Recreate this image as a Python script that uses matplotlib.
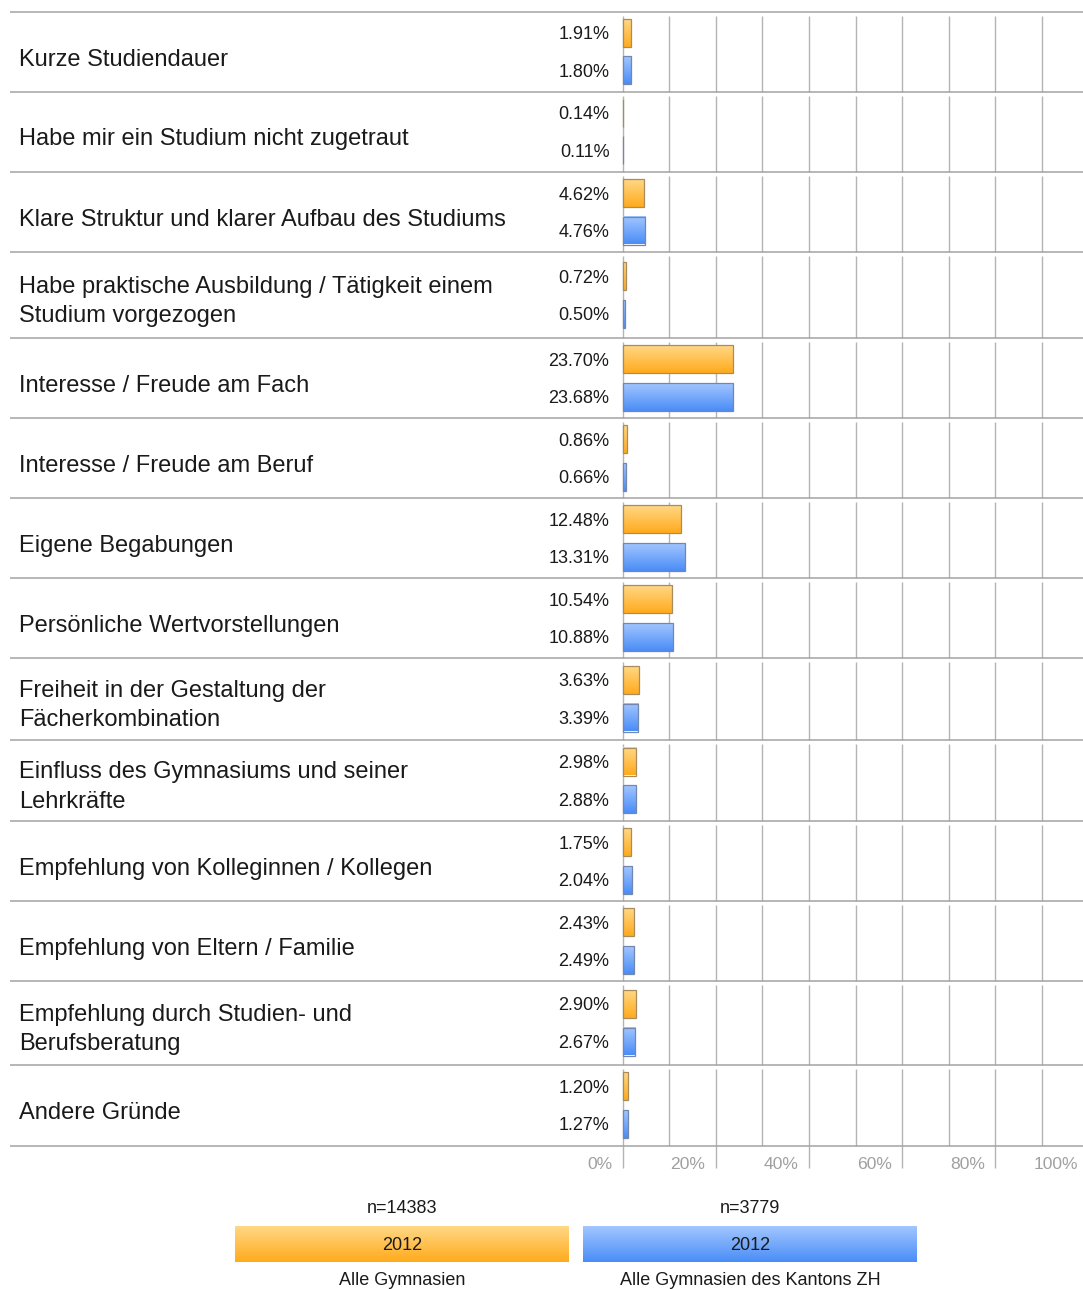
import numpy as np
import matplotlib
matplotlib.use("Agg")
import matplotlib.pyplot as plt
from matplotlib.colors import LinearSegmentedColormap

plt.rcParams['font.family'] = ['Liberation Sans', 'DejaVu Sans']

# daten (Prozent)
categories = [
    "Kurze Studiendauer",
    "Habe mir ein Studium nicht zugetraut",
    "Klare Struktur und klarer Aufbau des Studiums",
    "Habe praktische Ausbildung / Tätigkeit einem\nStudium vorgezogen",
    "Interesse / Freude am Fach",
    "Interesse / Freude am Beruf",
    "Eigene Begabungen",
    "Persönliche Wertvorstellungen",
    "Freiheit in der Gestaltung der\nFächerkombination",
    "Einfluss des Gymnasiums und seiner\nLehrkräfte",
    "Empfehlung von Kolleginnen / Kollegen",
    "Empfehlung von Eltern / Familie",
    "Empfehlung durch Studien- und\nBerufsberatung",
    "Andere Gründe",
]
alle_gym = [1.91, 0.14, 4.62, 0.72, 23.70, 0.86, 12.48, 10.54, 3.63, 2.98, 1.75, 2.43, 2.90, 1.20]
gym_zh = [1.80, 0.11, 4.76, 0.50, 23.68, 0.66, 13.31, 10.88, 3.39, 2.88, 2.04, 2.49, 2.67, 1.27]
series_names = ["Alle Gymnasien", "Alle Gymnasien des Kantons ZH"]
series_n = ["n=14383", "n=3779"]
series_year = ["2012", "2012"]
tick_vals = [0, 20, 40, 60, 80, 100]

# layout in pixel
W, H = 1083, 1289
PX0 = 622.5          # pixel of 0%
PXPCT = 4.66         # pixel per percent
row_edges = [11.5, 91.5, 171.5, 252, 338, 418, 498, 578, 658, 739.5, 821, 901, 981, 1064.5, 1145.5]
bar_h = 28
off = 18.75

orange_cm = LinearSegmentedColormap.from_list("o", ["#ffd886", "#ffab1c"])
blue_cm = LinearSegmentedColormap.from_list("b", ["#a2c6ff", "#4a8df7"])
grad = np.linspace(0, 1, 64).reshape(-1, 1)
txt_col = "#1a1a1a"

fig = plt.figure(figsize=(W / 100, H / 100), dpi=100)
ax = fig.add_axes([0, 0, 1, 1])
xlim = (-PX0 / PXPCT, (W - PX0) / PXPCT)
ax.axis('off')

def gbar(y, v, cm, edge):
    y0, y1 = y - bar_h / 2, y + bar_h / 2
    ax.imshow(grad, cmap=cm, aspect='auto', origin='upper',
              extent=(0, v, y1, y0), interpolation='bilinear', zorder=3)
    ax.barh(y, v, height=bar_h, left=0, fill=False, edgecolor=edge,
            linewidth=0.9, zorder=4)

ytr = ax.get_yaxis_transform()
for i, cat in enumerate(categories):
    top, bot = row_edges[i], row_edges[i + 1]
    c = (top + bot) / 2
    # gitter
    ax.vlines(np.arange(0, 100, 10), top + 4, bot, color="#b4b4b4", lw=1.0, zorder=1)
    gbar(c - off, alle_gym[i], orange_cm, "#a88c5c")
    gbar(c + off, gym_zh[i], blue_cm, "#7187b0")
    for y, v in [(c - off, alle_gym[i]), (c + off, gym_zh[i])]:
        ax.annotate("%.2f%%" % v, xy=(0, y + 6.5), xytext=(-9.4, 0),
                    textcoords='offset points', ha='right', va='baseline',
                    fontsize=13, color=txt_col)
    lines = cat.split("\n")
    n = len(lines)
    for j, ln in enumerate(lines):
        if n == 1:
            yb = c + 14
        else:
            yb = c + 12.5 + (j - 0.5) * 29.5
        ax.text(19 / W, yb, ln, transform=ytr, ha='left', va='baseline',
                fontsize=17, color=txt_col)

ax.hlines(row_edges, 10 / W, 1, transform=ytr, color="#a3a3a3", lw=1.1, zorder=2)

# achse unten
ax.vlines(tick_vals, row_edges[-1], 1168, color="#b4b4b4", lw=1.0, zorder=1, clip_on=False)
for t in tick_vals:
    ax.annotate("%d%%" % t, xy=(t, 1169), xytext=(-7.4, 0), textcoords='offset points',
                ha='right', va='baseline', fontsize=12.6, color="#a0a0a0",
                annotation_clip=False)

ax.set_xlim(*xlim)
ax.set_ylim(H, 0)

# legende
lax = fig.add_axes([0, 0, 1, 1])
lax.set_xlim(0, W)
lax.set_ylim(H, 0)
lax.axis('off')
lax.patch.set_alpha(0)
for k, (x0, x1, cm) in enumerate([(235, 569, orange_cm), (583, 917, blue_cm)]):
    xc = (x0 + x1) / 2
    lax.imshow(grad, cmap=cm, aspect='auto', origin='upper',
               extent=(x0, x1, 1262, 1226), interpolation='bilinear')
    lax.text(xc, 1213, series_n[k], ha='center', va='baseline', fontsize=13, color=txt_col)
    lax.text(xc, 1250, series_year[k], ha='center', va='baseline', fontsize=13, color=txt_col)
    lax.text(xc, 1285, series_names[k], ha='center', va='baseline', fontsize=13, color=txt_col)
lax.set_xlim(0, W)
lax.set_ylim(H, 0)

fig.savefig("out.png", dpi=100)
